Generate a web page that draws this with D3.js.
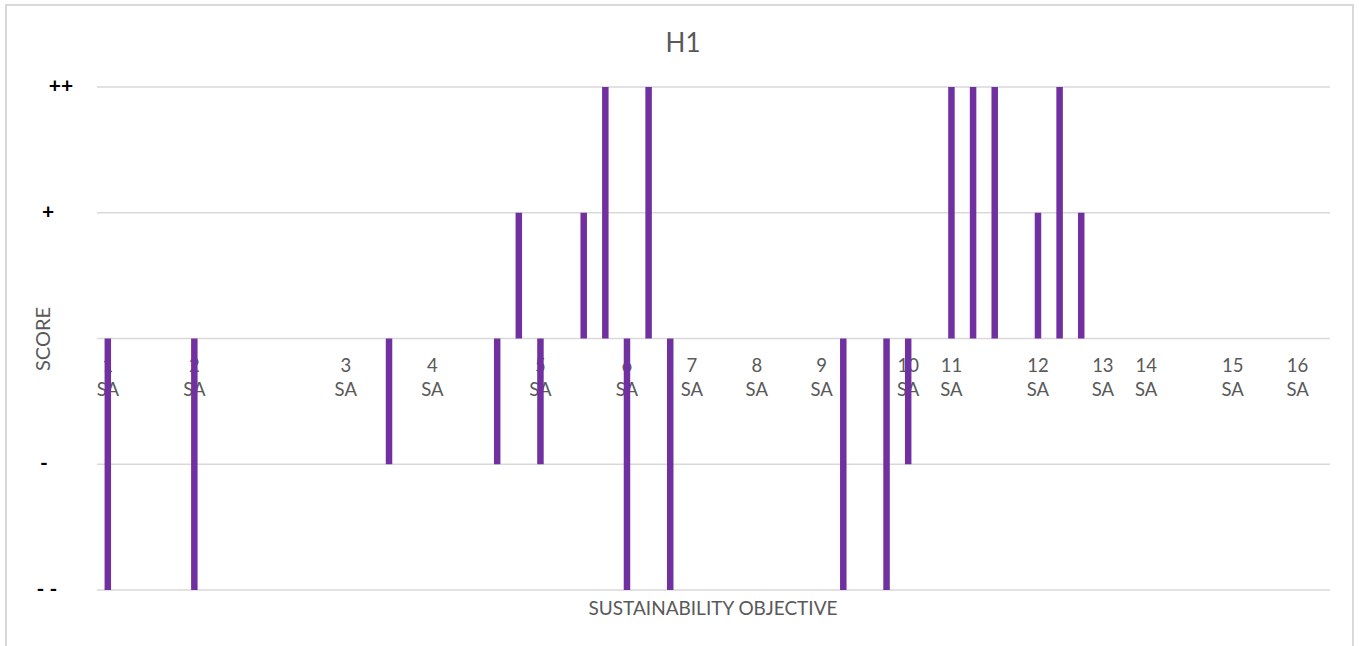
<!DOCTYPE html>
<html>
<head>
<meta charset="utf-8">
<script src="https://cdn.jsdelivr.net/npm/d3@7"></script>
<style>
  body { margin: 0; background: #fff; }
  text { font-family: Lato, "Liberation Sans", sans-serif; }
</style>
</head>
<body>
<div id="chart"></div>
<script>
// datos
const categoryLabels = [
  "1 SA", "", "", "", "2 SA", "", "", "", "", "", "",
  "3 SA", "", "", "", "4 SA", "", "", "", "", "5 SA", "", "", "",
  "6 SA", "", "", "7 SA", "", "", "8 SA", "", "", "9 SA", "", "", "",
  "10 SA", "", "11 SA", "", "", "", "12 SA", "", "", "13 SA", "",
  "14 SA", "", "", "", "15 SA", "", "", "16 SA", ""
]
const scores = [
  -2, 0, 0, 0, -2, 0, 0, 0, 0, 0, 0,
  0, 0, -1, 0, 0, 0, 0, -1, 1, -1, 0, 1, 2,
  -2, 2, -2, 0, 0, 0, 0, 0, 0, 0, -2, 0, -2,
  -1, 0, 2, 2, 2, 0, 1, 2, 1, 0, 0,
  0, 0, 0, 0, 0, 0, 0, 0, 0
]
const scoreTicks = [-2, -1, 0, 1, 2]
const scoreTickLabels = ["- -", "-", "", "+", "++"]

const width = 1359
const height = 646
const plot = { left: 97, right: 1330, top: 87, bottom: 590 }

const svg = d3.select("#chart").append("svg").attr("width", width).attr("height", height)

// marco del gráfico
svg.append("rect")
  .attr("x", 6).attr("y", 5)
  .attr("width", 1347).attr("height", 700)
  .attr("fill", "none").attr("stroke", "#d9d9d9").attr("stroke-width", 2)

// escalas
const idx = d3.range(categoryLabels.length)
const x = d3.scaleBand().domain(idx).range([plot.left, plot.right]).paddingInner(0.7).paddingOuter(0.35)
const y = d3.scaleLinear().domain([-2, 2]).range([plot.bottom, plot.top])

// rejilla
svg.append("g").selectAll("line").data(scoreTicks).enter().append("line")
  .attr("x1", plot.left).attr("x2", plot.right)
  .attr("y1", d => y(d)).attr("y2", d => y(d))
  .attr("stroke", "#d9d9d9").attr("stroke-width", 1.3)

// etiquetas eje y (a mano, como en el original)
const yLabelX = { "++": 61, "+": 48, "-": 44, "- -": 47 }
svg.append("g").selectAll("text").data(scoreTicks).enter().append("text")
  .attr("x", (d, i) => yLabelX[scoreTickLabels[i]] || 50)
  .attr("y", d => y(d) + 6)
  .attr("text-anchor", "middle")
  .attr("font-size", 21).attr("font-weight", "bold").attr("fill", "#000")
  .style("white-space", "pre")
  .text((d, i) => scoreTickLabels[i])

// eje x: etiquetas debajo de las barras
const xAxis = d3.axisBottom(x).tickSize(0).tickFormat(i => categoryLabels[i])
const xAxisGroup = svg.append("g").attr("transform", `translate(0,${y(0)})`).call(xAxis)
xAxisGroup.select(".domain").remove()
xAxisGroup.selectAll(".tick text").each(function(i) {
  const t = d3.select(this)
  const parts = categoryLabels[i].split(" ")
  t.text(null).attr("y", 0).attr("dy", null)
    .attr("font-size", 18.5).attr("fill", "#595959").attr("font-family", "Lato, sans-serif")
  if (parts[0] === "") return
  t.append("tspan").attr("x", 0).attr("y", 33).text(parts[0])
  t.append("tspan").attr("x", 0).attr("y", 57).text(parts[1])
})

// barras
svg.append("g").selectAll(".bar").data(idx).enter().append("rect")
  .attr("class", "bar")
  .attr("x", i => x(i))
  .attr("width", x.bandwidth())
  .attr("y", i => y(Math.max(0, scores[i])))
  .attr("height", i => Math.abs(y(scores[i]) - y(0)))
  .attr("fill", "#7030a0")

// títulos
svg.append("text").attr("x", 683).attr("y", 52).attr("text-anchor", "middle")
  .attr("font-size", 26).attr("fill", "#595959").text("H1")
svg.append("text").attr("x", 713).attr("y", 615).attr("text-anchor", "middle")
  .attr("font-size", 19).attr("fill", "#595959").text("SUSTAINABILITY OBJECTIVE")
svg.append("text").attr("transform", "translate(50,339) rotate(-90)").attr("text-anchor", "middle")
  .attr("font-size", 20).attr("fill", "#595959").text("SCORE")
</script>
</body>
</html>
